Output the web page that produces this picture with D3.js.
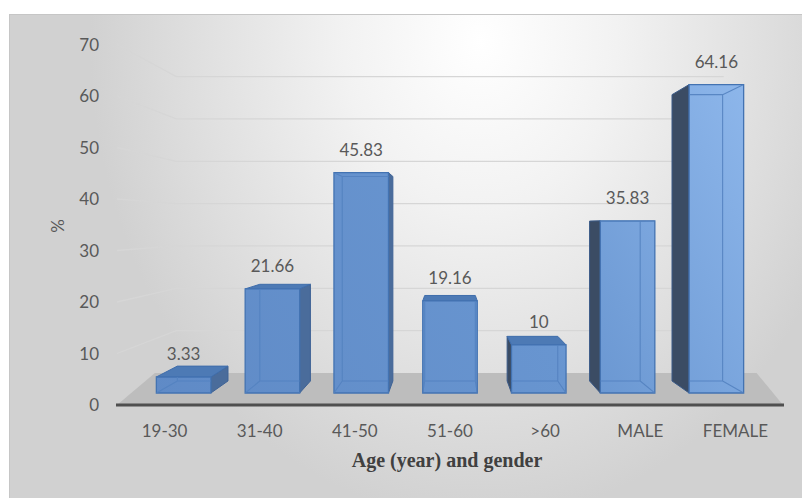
<!DOCTYPE html>
<html>
<head>
<meta charset="utf-8">
<script src="https://cdn.jsdelivr.net/npm/d3@7/dist/d3.min.js"></script>
<style>
  html, body { margin: 0; padding: 0; background: #ffffff; }
  svg { display: block; }
</style>
</head>
<body>
<svg id="chart" width="802" height="498"></svg>
<script>
// ---- data ----
const categories = ["19-30", "31-40", "41-50", "51-60", ">60", "MALE", "FEMALE"];
const values = [3.33, 21.66, 45.83, 19.16, 10, 35.83, 64.16];
const valueLabels = ["3.33", "21.66", "45.83", "19.16", "10", "35.83", "64.16"];
const yTicks = [0, 10, 20, 30, 40, 50, 60, 70];
const xTitle = "Age (year) and gender";
const yTitle = "%";

// ---- layout ----
const W = 802, H = 498;
const svg = d3.select("#chart");
const textColor = "#595959";
const font = "Lato, 'Open Sans', sans-serif";

const x = d3.scaleBand().domain(categories).range([117, 783])
  .paddingInner(0.386).paddingOuter(0.193);
const y = d3.scaleLinear().domain([0, 70]).range([405, 44.5]);

// one-point perspective
const vp = { x: 450, y: 225 };
const shrink = 0.178;
function P(u, v, z) {
  const s = 1 - shrink * z;
  return [vp.x + (u - vp.x) * s, vp.y + (y(v) - vp.y) * s];
}
const poly = pts => "M" + pts.map(p => p[0].toFixed(2) + "," + p[1].toFixed(2)).join("L") + "Z";
const line = pts => "M" + pts.map(p => p[0].toFixed(2) + "," + p[1].toFixed(2)).join("L");

const defs = svg.append("defs");
const bg = defs.append("radialGradient").attr("id", "bg")
  .attr("gradientUnits", "userSpaceOnUse").attr("cx", 0).attr("cy", 0).attr("r", 1)
  .attr("gradientTransform", "translate(480,40) scale(390,480)");
[[0, "#ffffff"], [0.35, "#f2f2f2"], [0.75, "#dedede"], [1, "#d1d1d1"]]
  .forEach(s => bg.append("stop").attr("offset", s[0]).attr("stop-color", s[1]));

const fg = defs.append("linearGradient").attr("id", "front")
  .attr("gradientUnits", "userSpaceOnUse")
  .attr("x1", 150).attr("y1", 400).attr("x2", 760).attr("y2", 80);
[[0, "#5f8ac6"], [0.55, "#6895d0"], [1, "#8fb8ec"]]
  .forEach(s => fg.append("stop").attr("offset", s[0]).attr("stop-color", s[1]));

// background
svg.append("rect").attr("x", 9.5).attr("y", 14.5).attr("width", W - 9).attr("height", H - 14)
  .attr("fill", "url(#bg)").attr("stroke", "#c6c6c6").attr("stroke-width", 1);

// gridlines (side wall + back wall)
const gridG = svg.append("g");
yTicks.filter(v => v > 0).forEach(v => {
  gridG.append("path")
    .attr("d", line([P(117, v, 0), P(117, v, 1), P(783, v, 1)]))
    .attr("fill", "none").attr("stroke", "#d6d6d6").attr("stroke-width", 1.3);
});

// floor
const floorExtL = 26, floorExtR = 40;
svg.append("path")
  .attr("d", poly([P(117, 0, 0), P(783, 0, 0), P(783 + floorExtR, 0, 1), P(117 - floorExtL, 0, 1)]))
  .attr("fill", "#bdbdbd");

// axis line at front edge of floor
svg.append("path").attr("d", line([P(116, 0, 0), P(784, 0, 0)]))
  .attr("stroke", "#4f4f4f").attr("stroke-width", 3).attr("fill", "none");

// y tick labels
svg.append("g").selectAll("text").data(yTicks).join("text")
  .attr("x", 99).attr("y", d => y(d)).attr("dy", "0.36em")
  .attr("text-anchor", "end").attr("font-family", font).attr("font-size", 17)
  .attr("fill", textColor).text(d => d);

// bars
const zf = 0.375, zb = 0.75;
const bw = x.bandwidth();
const barsG = svg.append("g");
categories.forEach((c, i) => {
  const v = values[i];
  const u0 = x(c), u1 = u0 + bw, uc = u0 + bw / 2;
  const F = (u, val) => P(u, val, zf);
  const B = (u, val) => P(u, val, zb);
  const g = barsG.append("g");
  // side face
  if (uc < vp.x - 1) {
    g.append("path").attr("d", poly([F(u1, 0), B(u1, 0), B(u1, v), F(u1, v)]))
      .attr("fill", "#4a6c9b").attr("stroke", "#3f6396").attr("stroke-width", 1);
  } else if (uc > vp.x + 1) {
    g.append("path").attr("d", poly([F(u0, 0), B(u0, 0), B(u0, v), F(u0, v)]))
      .attr("fill", "#3b4c64").attr("stroke", "#3a5a88").attr("stroke-width", 1);
  }
  // top face (visible when below horizon)
  if (F(uc, v)[1] > vp.y) {
    g.append("path").attr("d", poly([F(u0, v), F(u1, v), B(u1, v), B(u0, v)]))
      .attr("fill", "#4d7ab5").attr("stroke", "#3f6dab").attr("stroke-width", 1);
  }
  // front face
  const fp = [F(u0, 0), F(u1, 0), F(u1, v), F(u0, v)];
  g.append("path").attr("d", poly(fp))
    .attr("fill", "url(#front)").attr("stroke", "#4373b2").attr("stroke-width", 1.3);
  // hidden edges seen through the front face
  const clipId = "clip" + i;
  defs.append("clipPath").attr("id", clipId).append("path").attr("d", poly(fp));
  const hidden = [
    poly([B(u0, 0), B(u1, 0), B(u1, v), B(u0, v)]),
    line([F(u0, 0), B(u0, 0)]), line([F(u1, 0), B(u1, 0)]),
    line([F(u0, v), B(u0, v)]), line([F(u1, v), B(u1, v)])
  ];
  g.append("path").attr("d", hidden.join(" "))
    .attr("clip-path", "url(#" + clipId + ")")
    .attr("fill", "none").attr("stroke", "#5382c0").attr("stroke-width", 1.1).attr("opacity", 0.9);
  // data label
  const top = F(uc, v);
  g.append("text").attr("x", top[0]).attr("y", top[1] - 17)
    .attr("text-anchor", "middle").attr("font-family", font).attr("font-size", 17)
    .attr("fill", textColor).text(valueLabels[i]);
});

// category labels
svg.append("g").selectAll("text").data(categories).join("text")
  .attr("x", d => x(d) + bw / 2).attr("y", 437)
  .attr("text-anchor", "middle").attr("font-family", font).attr("font-size", 17)
  .attr("fill", textColor).text(d => d);

// axis titles
svg.append("text").attr("x", 447).attr("y", 467).attr("text-anchor", "middle")
  .attr("font-family", "'Liberation Serif', 'DejaVu Serif', serif").attr("font-weight", "bold")
  .attr("font-size", 20).attr("fill", "#404040").text(xTitle);
svg.append("text").attr("transform", "translate(64,226) rotate(-90)")
  .attr("text-anchor", "middle").attr("font-family", font).attr("font-size", 17)
  .attr("fill", textColor).text(yTitle);
</script>
</body>
</html>
